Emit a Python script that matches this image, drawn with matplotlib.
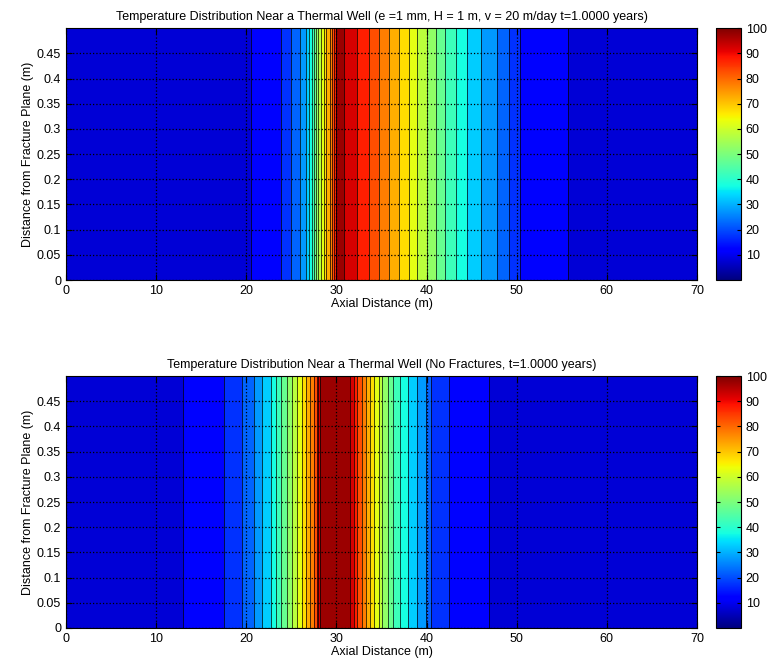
import numpy as np
import matplotlib
matplotlib.use("Agg")
import matplotlib.pyplot as plt
from matplotlib import cm, colors

plt.rcParams['font.family'] = ['Liberation Sans Narrow', 'Liberation Sans', 'DejaVu Sans']
plt.rcParams['font.size'] = 9

# temperature profiles (field is uniform in y)
x_frac = [0, 20.5, 23.8, 25.0, 26.0, 26.6, 27.0, 27.3, 27.5, 27.75, 28.0, 28.3,
          28.6, 28.9, 29.3, 29.55, 29.75, 29.9, 30.0, 30.3, 30.8, 32.3, 33.6,
          34.7, 35.8, 36.9, 38.0, 38.9, 40.0, 41.0, 42.1, 43.3, 44.5, 46.0,
          47.8, 50.4, 55.7, 70]
t_frac = [8, 10, 15, 20, 25, 30, 35, 40, 45, 50, 55, 60,
          65, 70, 75, 80, 85, 90, 95, 97.5, 95, 90, 85,
          80, 75, 70, 65, 60, 55, 50, 45, 40, 35, 30,
          25, 15, 10, 8]

x_nofrac = [0, 12.95, 17.5, 19.5, 20.9, 21.8, 22.7, 23.3, 23.9, 24.5, 25.05,
            25.6, 26.2, 26.6, 27.1, 27.5, 27.8, 28.0, 28.2, 30.0, 31.5, 31.9,
            32.3, 32.8, 33.3, 33.7, 34.2, 34.7, 35.1, 35.7, 36.3, 37.1, 37.9,
            38.9, 39.9, 40.5, 42.5, 46.9, 70]
t_nofrac = [8, 10, 15, 20, 25, 30, 35, 40, 45, 50, 55,
            60, 65, 70, 75, 80, 85, 90, 95, 98, 95, 90,
            85, 80, 75, 70, 65, 60, 55, 50, 45, 40, 35,
            30, 25, 20, 15, 10, 8]

y_pts = [0, 0.5]
levels = np.arange(0, 101, 5)
x_ticks = np.arange(0, 71, 10)
y_ticks = [0, 0.05, 0.1, 0.15, 0.2, 0.25, 0.3, 0.35, 0.4, 0.45]
y_ticklabels = ["0", "0.05", "0.1", "0.15", "0.2", "0.25", "0.3", "0.35", "0.4", "0.45"]
cb_ticks = np.arange(10, 101, 10)

titles = ["Temperature Distribution Near a Thermal Well (e =1 mm, H = 1 m, v = 20 m/day t=1.0000 years)",
          "Temperature Distribution Near a Thermal Well (No Fractures, t=1.0000 years)"]

fig = plt.figure(figsize=(7.79, 6.62), dpi=100)
norm = colors.Normalize(0, 100)

panels = [(x_frac, t_frac, 0.5770), (x_nofrac, t_nofrac, 0.0514)]
for i, (xs, ts, bottom) in enumerate(panels):
    ax = fig.add_axes([0.0847, bottom, 0.8100, 0.3805])
    z = np.tile(np.array(ts, dtype=float), (len(y_pts), 1))
    ax.contourf(xs, y_pts, z, levels=levels, cmap="jet", norm=norm)
    ax.contour(xs, y_pts, z, levels=levels, colors="k", linewidths=0.5)
    ax.set_xlim(0, 70)
    ax.set_ylim(0, 0.5)
    ax.set_xticks(x_ticks)
    ax.set_yticks(y_ticks)
    ax.set_yticklabels(y_ticklabels)
    ax.set_axisbelow(False)
    ax.grid(True, color="k", linestyle=":", linewidth=0.9)
    ax.tick_params(direction="in", top=True, right=True, length=4, labelsize=9)
    ax.set_xlabel("Axial Distance (m)", fontsize=9, labelpad=1)
    ax.set_ylabel("Distance from Fracture Plane (m)", fontsize=9, labelpad=2)
    ax.set_title(titles[i], fontsize=9, pad=6)

    cax = fig.add_axes([0.919, bottom, 0.032, 0.3805])
    sm = cm.ScalarMappable(norm=norm, cmap="jet")
    cb = fig.colorbar(sm, cax=cax, ticks=cb_ticks)
    cb.outline.set_linewidth(0.8)
    cax.tick_params(direction="in", left=True, right=True, length=3, labelsize=9)

fig.savefig("out.png", dpi=100)
